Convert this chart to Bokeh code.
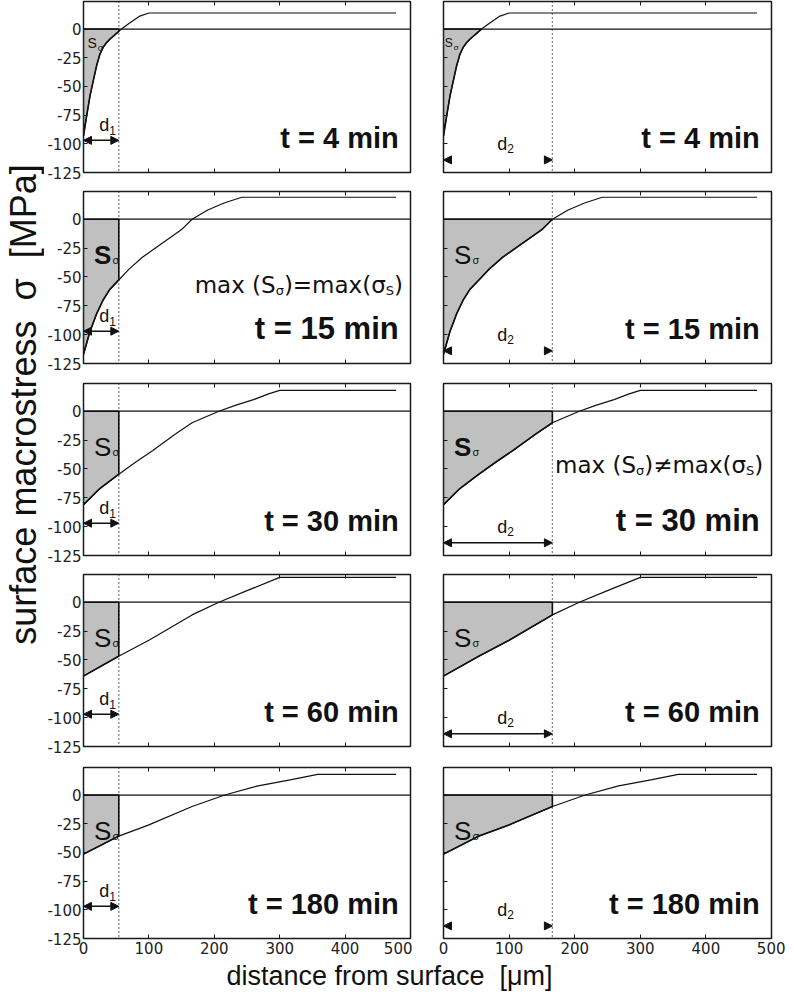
import numpy as np
from bokeh.plotting import figure
from bokeh.layouts import row, column
from bokeh.models import (Range1d, LinearAxis, FixedTicker, Span, Label, Arrow, NormalHead,
                          PrintfTickFormatter)
from bokeh.core.properties import value
from bokeh.embed import file_html
from bokeh.resources import INLINE

# ---------------- data ----------------
times = ["4", "15", "30", "60", "180"]
x_t4 = [0, 5, 10, 15, 20, 25, 30, 35, 40, 50, 58, 70, 85, 100, 478]
s_t4 = [-93, -75, -58, -45, -32, -22, -16, -12, -9, -4, 0, 5, 11, 14, 14]
x_t15 = [0, 10, 20, 30, 40, 55, 70, 90, 110, 130, 150, 166, 190, 215, 242, 478]
s_t15 = [-117, -97, -82, -70, -61, -52, -43, -33, -25, -17, -9, 0, 8, 14, 19, 19]
x_t30 = [0, 25, 53, 80, 106, 140, 166, 207, 232, 260, 283, 300, 478]
s_t30 = [-81, -67, -55, -44, -34, -20, -10, 0, 5, 10, 15, 18, 18]
x_t60 = [0, 53, 100, 166, 207, 250, 300, 478]
s_t60 = [-64, -47, -33, -11, 0, 10, 21.5, 21.5]
x_t180 = [0, 53, 100, 166, 216, 267, 318, 358, 478]
s_t180 = [-51.5, -36, -26, -10, 0, 8, 13.5, 18, 18]
profiles_x = [x_t4, x_t15, x_t30, x_t60, x_t180]
profiles_s = [s_t4, s_t15, s_t30, s_t60, s_t180]
d1 = 54
d2 = 166
x_ticks = [0, 100, 200, 300, 400, 500]
y_ticks = [0, -25, -50, -75, -100, -125]

FONT = value("Liberation Sans")
TICKFONT = value("DejaVu Sans")
INK = "#111111"

# layout (pixels)
STRIP_W = 44
LEFT_BL, LEFT_FW, LEFT_BR = 36, 330, 2
RIGHT_BL, RIGHT_FW, RIGHT_BR = 31, 328, 14
ROW_FH = [171, 172, 172, 172, 171]
ROW_BB = [18, 19, 18, 20, 21]


def crossing(xs, ss):
    for i in range(1, len(xs)):
        if ss[i - 1] < 0 <= ss[i]:
            return xs[i - 1] + (0 - ss[i - 1]) * (xs[i] - xs[i - 1]) / (ss[i] - ss[i - 1])
    return xs[-1]


def hide_labels(ax):
    ax.major_label_text_color = None
    ax.major_label_text_font_size = "1px"
    ax.major_label_standoff = 0


def make_panel(ri, col):
    xs, ss = profiles_x[ri], profiles_s[ri]
    d = d1 if col == 0 else d2
    last = ri == 4
    left = col == 0
    bl, fw, br = (LEFT_BL, LEFT_FW, LEFT_BR) if left else (RIGHT_BL, RIGHT_FW, RIGHT_BR)
    bb = ROW_BB[ri]
    p = figure(width=bl + fw + br, height=1 + ROW_FH[ri] + bb,
               x_range=Range1d(0, 500), y_range=Range1d(-125, 24),
               output_backend="svg", toolbar_location=None,
               min_border_left=bl, min_border_right=br,
               min_border_top=1, min_border_bottom=bb)
    p.grid.visible = False
    p.outline_line_color = "#1a1a1a"
    p.outline_line_width = 1.5
    p.background_fill_color = "white"
    p.border_fill_color = "white"

    xa = p.xaxis[0]
    xa.ticker = FixedTicker(ticks=x_ticks)
    ya = p.yaxis[0]
    ya.ticker = FixedTicker(ticks=y_ticks)
    for ax in (xa, ya):
        ax.formatter = PrintfTickFormatter(format="%d")
        ax.major_tick_in = 4
        ax.major_tick_out = 0
        ax.minor_tick_line_color = None
        ax.axis_line_color = None
        ax.major_tick_line_color = "#1a1a1a"
        ax.major_label_text_font = "DejaVu Sans"
        ax.major_label_text_font_size = "15px"
        ax.major_label_text_color = "#222222"
    xa.major_label_standoff = 3
    ya.major_label_standoff = 2
    if not last:
        hide_labels(xa)
    if not left:
        hide_labels(ya)
    top = LinearAxis(ticker=FixedTicker(ticks=x_ticks[1:-1]), major_tick_in=4, major_tick_out=0,
                     minor_tick_line_color=None, axis_line_color=None,
                     major_tick_line_color="#1a1a1a")
    hide_labels(top)
    p.add_layout(top, "above")

    # shaded area S_sigma
    xe = min(d, crossing(xs, ss))
    se = float(np.interp(xe, xs, ss))
    fx = [0] + [x for x in xs if x < xe] + [xe, xe]
    fy = [0] + [s for x, s in zip(xs, ss) if x < xe] + [se, 0]
    p.patch(fx, fy, fill_color="#c0c0c0", line_color=INK, line_width=1.6)

    p.add_layout(Span(location=0, dimension="width", line_color=INK, line_width=1.3))
    p.add_layout(Span(location=d, dimension="height", line_color=INK,
                      line_width=1.3, line_dash="1 3"))
    p.line(xs, ss, line_color=INK, line_width=1.2)

    # d arrow
    ay = -97 if left else -114
    show_line = left or ri in (2, 3)
    p.add_layout(Arrow(x_start=0, y_start=ay, x_end=d, y_end=ay,
                       line_color=INK if show_line else None, line_width=1.5,
                       start=NormalHead(size=8, fill_color=INK, line_color=INK),
                       end=NormalHead(size=8, fill_color=INK, line_color=INK)))
    dx, dy = (24, -84) if left else (82, -100)
    p.text(x=[dx], y=[dy], text=["d"], text_font=FONT, text_font_size="18px",
           text_color=INK, text_baseline="alphabetic", text_align="left")
    p.text(x=[dx], y=[dy], text=["1" if left else "2"], x_offset=10, y_offset=5,
           text_font=FONT, text_font_size="12px", text_color=INK,
           text_baseline="alphabetic", text_align="left")

    # S_sigma label
    if ri == 0:
        sx, sy, sfs, subfs = (6, -12, "14px", "9px") if left else (2, -12, "12px", "8px")
        sstyle = "normal"
    else:
        sx, sy, sfs, subfs = (16, -31, "26px", "11px")
        sstyle = "bold" if (ri == 1 and left) or (ri == 2 and not left) else "normal"
    p.text(x=[sx], y=[sy], text=["S"], text_font=FONT, text_font_size=sfs,
           text_font_style=sstyle, text_color=INK, text_baseline="alphabetic")
    off = 0.67 * float(sfs[:-2]) + 1
    p.text(x=[sx], y=[sy], text=["σ"], x_offset=off, y_offset=5, text_font=FONT,
           text_font_size=subfs, text_color=INK, text_baseline="alphabetic")

    # time label
    emph = (ri == 1 and left) or (ri == 2 and not left)
    p.text(x=[482], y=[-95], text=["t = %s min" % times[ri]], text_align="right",
           text_baseline="alphabetic", text_font=FONT, text_font_style="bold",
           text_font_size="31px" if emph else "29px", text_color=INK)

    # max(...) statement
    if emph:
        rel = "=" if left else "≠"
        my = -57 if left else -47
        fs, sub = 23, 13
        wmap = {"m": 0.974, "a": 0.613, "x": 0.592, " ": 0.318, "(": 0.390, ")": 0.390,
                "S": 0.635, "=": 0.838, "≠": 0.838, "σ": 0.63}
        pieces = [("max (S", fs, 0), ("σ", sub, 5), (")" + rel + "max(σ", fs, 0), ("S", sub, 5), (")", fs, 0)]
        xo = 0.0
        for txt, size, yo in pieces:
            p.text(x=[170], y=[my], text=[txt], x_offset=xo, y_offset=yo,
                   text_font=TICKFONT, text_font_size="%dpx" % size, text_color=INK,
                   text_baseline="alphabetic", text_align="left")
            xo += sum(wmap.get(c, 0.6) for c in txt) * size
    return p


rows = []
for ri in range(5):
    rows.append(row(make_panel(ri, 0), make_panel(ri, 1)))
grid = column(*rows)

H_rows = sum(1 + h + b for h, b in zip(ROW_FH, ROW_BB))
ylab = figure(width=STRIP_W, height=H_rows, x_range=Range1d(0, STRIP_W), y_range=Range1d(0, H_rows),
              output_backend="svg", toolbar_location=None, min_border=0,
              x_axis_location=None, y_axis_location=None)
ylab.grid.visible = False
ylab.outline_line_color = None
NB = "\u00a0"
ylab.add_layout(Label(x=23, y=H_rows - 404,
                      text="surface macrostress" + NB * 2 + "σ" + NB * 2 + "[MPa]", angle=np.pi / 2,
                      text_align="center", text_baseline="middle", text_font="Liberation Sans",
                      text_font_size="36px", text_color=INK))

TOTAL_W = STRIP_W + (LEFT_BL + LEFT_FW + LEFT_BR) + (RIGHT_BL + RIGHT_FW + RIGHT_BR)
XLAB_H = 992 - H_rows
xlab = figure(width=TOTAL_W, height=XLAB_H, x_range=Range1d(0, TOTAL_W), y_range=Range1d(0, XLAB_H),
              output_backend="svg", toolbar_location=None, min_border=0,
              x_axis_location=None, y_axis_location=None)
xlab.grid.visible = False
xlab.outline_line_color = None
xlab.add_layout(Label(x=389, y=XLAB_H / 2, text="distance from surface" + NB * 2 + "[μm]", text_align="center",
                      text_baseline="middle", text_font="Liberation Sans", text_font_size="27px",
                      text_color=INK))

layout = column(row(ylab, grid), xlab)
open("out.html", "w").write(file_html(layout, INLINE))
